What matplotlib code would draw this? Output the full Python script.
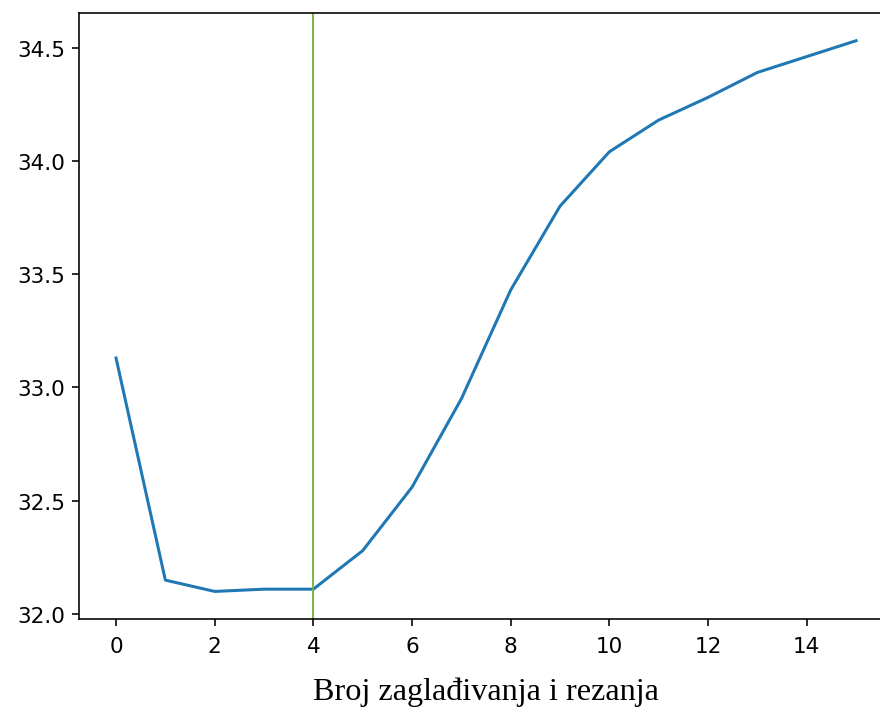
import matplotlib.pyplot as plt

# podaci ocitani sa grafika
koraci = list(range(16))
vrijednosti = [33.13, 32.15, 32.10, 32.11, 32.11, 32.28, 32.56, 32.95,
               33.43, 33.80, 34.04, 34.18, 34.28, 34.39, 34.46, 34.53]
granica = 4

fig, ax = plt.subplots(figsize=(880 / 145, 710 / 145), dpi=145)
# desni rub osa je izvan slike (original je odsjecen)
fig.subplots_adjust(left=0.0898, right=1.0148, top=0.980, bottom=0.1268)

ax.plot(koraci, vrijednosti, color='#1f77b4')
ax.axvline(granica, color='#6cb33f', linewidth=0.9)

ax.set_xticks(range(0, 16, 2))
ax.tick_params(labelsize=10.7)
ax.tick_params(axis='x', pad=5)
ax.set_xlabel("Broj zaglađivanja i rezanja", family='Liberation Serif',
              fontsize=16, labelpad=10)

fig.savefig("out.png", dpi=145)
